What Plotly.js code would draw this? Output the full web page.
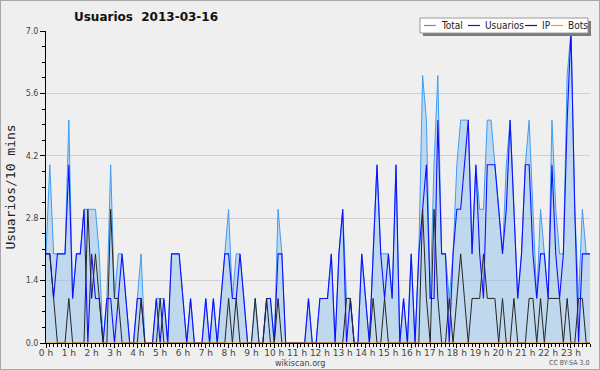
<!DOCTYPE html>
<html><head><meta charset="utf-8">
<script src="https://cdn.plot.ly/plotly-3.0.1.min.js"></script>
<style>
body{margin:0;background:#efefef}
#wrap{position:relative;width:600px;height:370px}
#frame{position:absolute;left:0;top:0;width:600px;height:370px;box-sizing:border-box;border:1px solid #a8a8a8;pointer-events:none}
</style>
</head><body>
<div id="wrap"><div id="chart" style="width:600px;height:370px"></div><div id="frame"></div></div>
<script>
// ---- data (one value per 10-minute slot, 00:00 .. 23:50) ----
const hourLabels = ["0 h","1 h","2 h","3 h","4 h","5 h","6 h","7 h","8 h","9 h","10 h","11 h",
  "12 h","13 h","14 h","15 h","16 h","17 h","18 h","19 h","20 h","21 h","22 h","23 h"];
const seriesNames = ["Total","Usuarios","IP","Bots"];
const total = [2,4,2,2,2,2,5,1,2,2, 3,3,3,3,2,0,1,4,1,2, 2,1,0,0,1,2,0,0,0,1,
  1,1,0,2,2,2,1,0,1,0, 0,0,1,0,1,0,1,2,3,1, 2,2,1,0,0,1,0,0,1,1,
  0,3,2,0,0,0,0,0,0,1, 0,0,1,1,1,2,0,2,3,1, 1,0,0,2,1,0,2,4,2,2,
  2,1,4,0,1,0,2,0,2,6, 5,1,4,6,2,2,1,2,4,5, 5,5,2,4,3,3,5,5,4,3,
  2,4,5,3,1,2,4,5,3,1, 3,2,1,5,3,2,2,6,7,3, 1,3,2,2];
const usuarios = [2,2,1,2,2,2,4,1,2,2, 3,0,2,1,1,0,1,1,0,1, 2,1,0,0,1,1,0,0,0,1,
  0,1,0,2,2,2,1,0,1,0, 0,0,1,0,1,0,1,2,2,1, 1,2,1,0,0,0,0,0,1,1,
  0,2,2,0,0,0,0,0,0,1, 0,0,1,1,1,2,0,2,3,0, 1,0,0,2,1,0,2,4,2,1,
  2,1,4,0,1,0,2,0,2,3, 4,1,1,5,2,2,0,2,3,3, 4,5,2,4,2,1,4,4,4,3,
  2,3,5,3,1,2,4,4,2,1, 2,2,1,4,2,1,2,5,7,3, 0,2,2,2];
const ip = [2,2,1,0,0,0,1,0,0,0, 0,3,1,2,1,0,0,3,1,1, 0,0,0,0,0,1,0,0,0,0,
  1,0,0,0,0,0,0,0,0,0, 0,0,0,0,0,0,0,0,1,0, 1,0,0,0,0,1,0,0,1,0,
  0,1,0,0,0,0,0,0,0,0, 0,0,0,0,0,0,0,0,0,1, 1,0,0,0,0,0,1,0,0,1,
  0,0,0,0,0,0,0,0,0,3, 1,0,3,1,0,0,1,0,1,2, 1,0,1,1,1,2,1,1,1,0,
  1,0,0,1,0,0,0,1,1,0, 1,0,1,1,1,1,0,1,0,0, 1,1,0,0];
const bots = [0,0,0,0,0,0,0,0,0,0, 0,0,0,0,0,0,0,0,0,0, 0,0,0,0,0,0,0,0,0,0,
  0,0,0,0,0,0,0,0,0,0, 0,0,0,0,0,0,0,0,0,0, 0,0,0,0,0,0,0,0,0,0,
  0,0,0,0,0,0,0,0,0,0, 0,0,0,0,0,0,0,0,0,0, 0,0,0,0,0,0,0,0,0,0,
  0,0,0,0,0,0,0,0,0,0, 0,0,0,0,0,0,0,0,0,0, 0,0,0,0,0,0,0,0,0,0,
  0,0,0,0,0,0,0,0,0,0, 0,0,0,0,0,0,0,0,0,0, 0,0,0,0];
const slotMinutes = 10;

// ---- chart ----
const xHours = total.map((_, i) => i * slotMinutes / 60);
const colors = {Total:"#3d9df5", Usuarios:"#1010ff", IP:"#262626", Bots:"#ff9a1a"};
const FONT = "DejaVu Sans, Verdana, sans-serif";
const CFONT = "DejaVu Sans Condensed, DejaVu Sans, sans-serif";

const traces = [
  {x:xHours, y:total, name:seriesNames[0], type:"scatter", mode:"lines",
   line:{color:colors.Total, width:1}, fill:"tozeroy", fillcolor:"rgba(150,196,238,0.52)"},
  {x:xHours, y:usuarios, name:seriesNames[1], type:"scatter", mode:"lines",
   line:{color:colors.Usuarios, width:1.1}},
  {x:xHours, y:ip, name:seriesNames[2], type:"scatter", mode:"lines",
   line:{color:colors.IP, width:1}},
  {x:xHours, y:bots, name:seriesNames[3], type:"scatter", mode:"lines",
   line:{color:colors.Bots, width:1}}
];

// layout helpers: pixel -> paper coordinates of the plot area (46..590 x 31..343)
const PX = v => (v - 46) / 544;
const PY = v => (343 - v) / 312;

const shapes = [
  {type:"rect", xref:"paper", yref:"paper", x0:PX(423), x1:PX(591), y0:PY(21), y1:PY(36),
   fillcolor:"#7a7a7a", line:{width:0}, layer:"above"},
  {type:"rect", xref:"paper", yref:"paper", x0:PX(420), x1:PX(588), y0:PY(18), y1:PY(33),
   fillcolor:"#ffffff", line:{color:"#9a9a9a", width:1}, layer:"above"}
];
const legendItems = [
  {name:seriesNames[0], lx:424, tx:439},
  {name:seriesNames[1], lx:468, tx:483},
  {name:seriesNames[2], lx:525, tx:540},
  {name:seriesNames[3], lx:551, tx:566}
];
const annotations = [];
legendItems.forEach(it => {
  shapes.push({type:"line", xref:"paper", yref:"paper", x0:PX(it.lx), x1:PX(it.lx+12),
    y0:PY(25.5), y1:PY(25.5), line:{color:colors[it.name], width:1.2}, layer:"above"});
  annotations.push({text:it.name, xref:"paper", yref:"paper", x:PX(it.tx), y:PY(25.5),
    xanchor:"left", yanchor:"middle", showarrow:false,
    font:{family:CFONT, size:10, color:"#222"}});
});
annotations.push({text:"wikiscan.org", xref:"paper", yref:"paper", x:PX(300), y:PY(362.5),
  xanchor:"center", yanchor:"middle", showarrow:false, font:{family:CFONT, size:9, color:"#444"}});
annotations.push({text:"CC BY-SA 3.0", xref:"paper", yref:"paper", x:PX(591), y:PY(362.5),
  xanchor:"right", yanchor:"middle", showarrow:false, font:{family:CFONT, size:7, color:"#555"}});

const layout = {
  width:600, height:370,
  margin:{l:46, r:10, t:31, b:27, pad:0},
  paper_bgcolor:"#efefef", plot_bgcolor:"#efefef",
  showlegend:false,
  title:{text:"Usuarios\u00a0\u00a02013-03-16", x:146/600, xanchor:"center", y:1-17/370, yanchor:"middle",
    font:{family:FONT, size:12, weight:"bold", color:"#111"}},
  xaxis:{range:[0, 143/6], tickvals:hourLabels.map((_, h) => h), ticktext:hourLabels,
    ticks:"outside", ticklen:4, tickwidth:1, tickcolor:"#000", ticklabelstandoff:-3,
    minor:{dtick:1/6, tick0:0, ticks:"outside", ticklen:3, tickcolor:"#000", showgrid:false},
    showline:true, linecolor:"#000", linewidth:1, showgrid:false, zeroline:false,
    tickfont:{family:FONT, size:9, color:"#444"}, fixedrange:true},
  yaxis:{range:[0,7], tick0:0, dtick:1.4, tickformat:".1f",
    ticks:"outside", ticklen:5, tickwidth:1, tickcolor:"#000",
    minor:{dtick:0.35, tick0:0, ticks:"outside", ticklen:3, tickcolor:"#000", showgrid:false},
    showline:true, linecolor:"#000", linewidth:1, showgrid:true, gridcolor:"#cfcfcf", zeroline:false,
    tickfont:{family:FONT, size:8, color:"#444"},
    title:{text:"Usuarios/10 mins", standoff:7, font:{family:"DejaVu Sans Mono, monospace", size:13, color:"#222"}}},
  shapes:shapes, annotations:annotations
};

Plotly.newPlot("chart", traces, layout, {displayModeBar:false, staticPlot:true});
</script>
</body></html>
